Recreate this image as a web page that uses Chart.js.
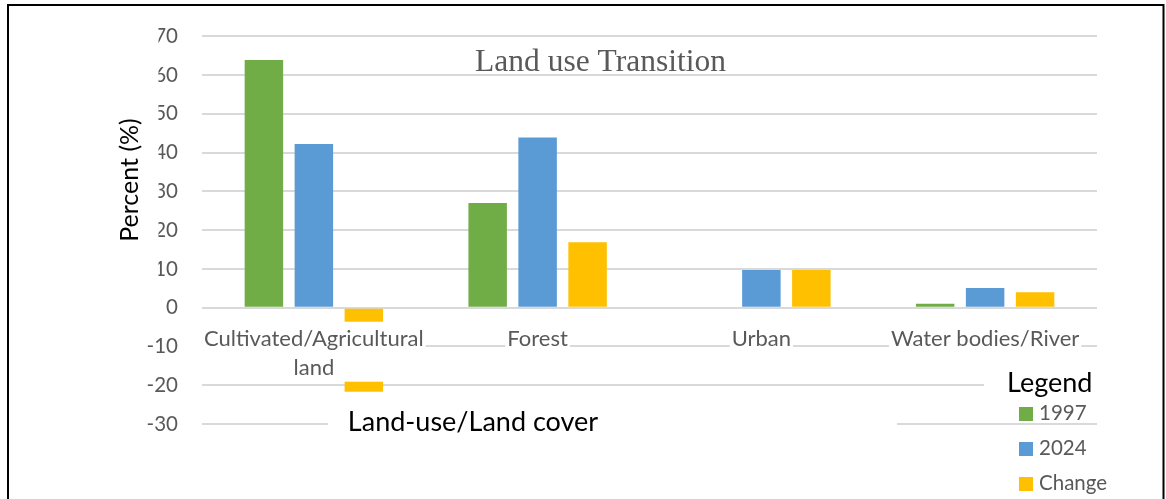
<!DOCTYPE html>
<html>
<head>
<meta charset="utf-8">
<script src="https://cdn.jsdelivr.net/npm/chart.js@4.4.1/dist/chart.umd.min.js"></script>
<style>
    body { margin: 0; background: #ffffff; }
    #wrap { position: relative; width: 1166px; height: 499px; }
</style>
</head>
<body>
<div id="wrap"><canvas id="landChart"></canvas></div>
<script>
// categories (multi-line label for the first one, like the original axis)
const categories = [['Cultivated/Agricultural', 'land'], 'Forest', 'Urban', 'Water bodies/River'];
const seriesNames = ['1997', '2024', 'Change'];
const values1997 = [63.9, 27.0, 0, 1.0];
const values2024 = [42.2, 43.9, 9.7, 5.1];
const valuesChange = [-21.7, 16.9, 9.7, 4.0];
const yTicks = [-30, -20, -10, 0, 10, 20, 30, 40, 50, 60, 70];

const colors = ['#70AD47', '#5B9BD5', '#FFC000'];
const gray = '#595959';
const sans = 'Lato, "Open Sans", sans-serif';

// text boxes drawn over the plot, the way the original has them
const overlayPlugin = {
    id: 'overlay',
    afterDatasetsDraw(chart) {
        const ctx = chart.ctx;
        const xs = chart.scales.x;
        const ys = chart.scales.y;
        const y0 = ys.getPixelForValue(0);
        ctx.save();

        // category labels with white background at the zero line
        ctx.font = '22px ' + sans;
        ctx.textAlign = 'center';
        ctx.textBaseline = 'alphabetic';
        categories.forEach((cat, i) => {
            const lines = Array.isArray(cat) ? cat : [cat];
            const cx = xs.getPixelForValue(i);
            const w = Math.max(...lines.map(l => ctx.measureText(l).width)) + 4;
            ctx.fillStyle = '#ffffff';
            ctx.fillRect(cx - w / 2, y0 + 14, w, 31 + (lines.length - 1) * 29);
            ctx.fillStyle = gray;
            lines.forEach((l, k) => ctx.fillText(l, cx, y0 + 38 + k * 29));
        });

        // chart title
        ctx.fillStyle = '#ffffff';
        ctx.fillRect(465, 37.5, 271, 36.5);
        ctx.fillStyle = gray;
        ctx.font = '31.5px "Liberation Serif", "Times New Roman", serif';
        ctx.fillText('Land use Transition', 600.5, 71);

        // y axis title (its box hides part of the tick labels)
        ctx.fillStyle = '#ffffff';
        ctx.fillRect(108, 22, 50.5, 268);
        ctx.save();
        ctx.translate(138, 180);
        ctx.rotate(-Math.PI / 2);
        ctx.fillStyle = '#000000';
        ctx.font = '25px ' + sans;
        ctx.fillText('Percent (%)', 0, 0);
        ctx.restore();

        // x axis title
        ctx.fillStyle = '#ffffff';
        ctx.fillRect(328, 402, 569, 44);
        ctx.fillStyle = '#000000';
        ctx.font = '27px ' + sans;
        ctx.fillText('Land-use/Land cover', 473, 431);

        // legend
        ctx.fillStyle = '#ffffff';
        ctx.fillRect(984, 366, 120, 34);
        ctx.fillStyle = '#000000';
        ctx.textAlign = 'left';
        ctx.fillText('Legend', 1007, 392);
        ctx.font = '20.5px ' + sans;
        chart.data.datasets.forEach((ds, i) => {
            const top = 407 + i * 35;
            ctx.fillStyle = ds.backgroundColor;
            ctx.fillRect(1019, top, 14, 14);
            ctx.fillStyle = gray;
            ctx.fillText(ds.label, 1039, top + 13);
        });
        ctx.restore();
    },
    afterDraw(chart) {
        const ctx = chart.ctx;
        ctx.save();
        ctx.strokeStyle = '#000000';
        ctx.lineWidth = 2;
        ctx.strokeRect(8, 5, 1155.5, 600);
        ctx.restore();
    }
};

new Chart(document.getElementById('landChart'), {
    type: 'bar',
    data: {
        labels: categories,
        datasets: [
            { label: seriesNames[0], data: values1997, backgroundColor: colors[0] },
            { label: seriesNames[1], data: values2024, backgroundColor: colors[1] },
            { label: seriesNames[2], data: valuesChange, backgroundColor: colors[2] }
        ]
    },
    options: {
        responsive: true,
        maintainAspectRatio: false,
        animation: false,
        datasets: {
            bar: { categoryPercentage: 0.67, barPercentage: 0.77, borderWidth: 0 }
        },
        layout: { padding: { left: 113, top: 36, right: 69, bottom: 75 } },
        plugins: {
            legend: { display: false },
            title: { display: false },
            tooltip: { enabled: false }
        },
        scales: {
            x: {
                display: false
            },
            y: {
                min: yTicks[0],
                max: yTicks[yTicks.length - 1],
                afterFit(scale) { scale.width = 89; },
                afterBuildTicks(scale) { scale.ticks = yTicks.map(v => ({ value: v })); },
                ticks: {
                    color: gray,
                    padding: 24,
                    font: { family: sans, size: 20.5 }
                },
                grid: { color: '#D9D9D9', lineWidth: 2, drawTicks: false },
                border: { display: false }
            }
        }
    },
    plugins: [overlayPlugin]
});
</script>
</body>
</html>
